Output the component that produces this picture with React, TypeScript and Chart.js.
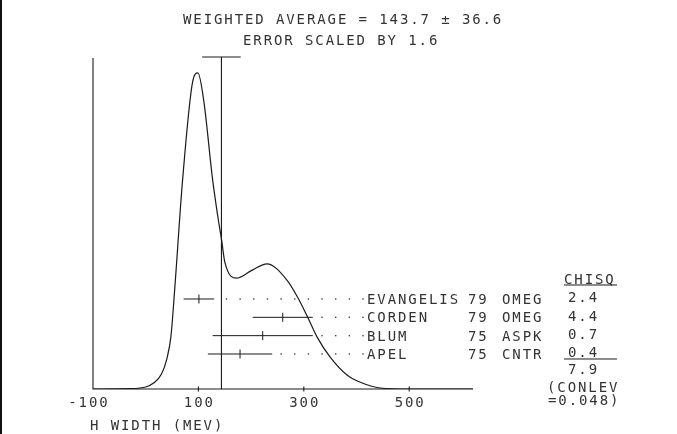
import React, { useEffect, useRef } from 'react';
import { Chart, registerables } from 'chart.js';

Chart.register(...registerables);

// Ideogram curve (MeV, relative height)
const curveMeV = [-100, -30, 0, 15, 30, 40, 48, 55, 70, 89, 99, 110, 127, 137, 144, 150, 173, 202, 230, 268, 289, 308, 325, 350, 382, 406, 445, 500, 621];
const curveHeight = [0, 0.001, 0.006, 0.018, 0.045, 0.09, 0.16, 0.3, 0.63, 0.925, 0.952, 0.87, 0.63, 0.518, 0.449, 0.383, 0.334, 0.358, 0.377, 0.328, 0.274, 0.214, 0.157, 0.096, 0.042, 0.021, 0.003, 0, 0];

// Measurements
const names = ['EVANGELIS', 'CORDEN', 'BLUM', 'APEL'];
const years = ['79', '79', '75', '75'];
const techs = ['OMEG', 'OMEG', 'ASPK', 'CNTR'];
const values = [101, 260, 222, 179];
const errors = [29, 57, 95, 61];
const chisq = ['2.4', '4.4', '0.7', '0.4'];
const chisqTotal = '7.9';
const conlevLines = ['(CONLEV', '=0.048)'];

const avgValue = 143.7;
const avgError = 36.6;

const xTicks = [-100, 100, 300, 500];
const xTickLabels = ['-100', '100', '300', '500'];
const titleLines = ['WEIGHTED AVERAGE = 143.7 \u00B1 36.6', 'ERROR SCALED BY 1.6'];
const xAxisTitle = 'H WIDTH (MEV)';

const FONT = '14px "DejaVu Sans Mono", monospace';
const INK = '#1a1a1a';
const TEXT_INK = '#333';

const ideogramPlugin = {
  id: 'ideogram',
  afterDatasetsDraw(chart: any) {
    const ctx = chart.ctx as CanvasRenderingContext2D;
    const xs = chart.scales.x;
    const ys = chart.scales.y;
    const rs = chart.scales.row;
    const x0 = xs.getPixelForValue(-100);
    const yBase = ys.getPixelForValue(0);
    const yTop = ys.getPixelForValue(1);

    ctx.save();
    ctx.strokeStyle = INK;
    ctx.lineWidth = 1.1;

    // axes
    ctx.beginPath();
    ctx.moveTo(x0, yTop + 1);
    ctx.lineTo(x0, yBase);
    ctx.lineTo(xs.right, yBase);
    ctx.stroke();
    xTicks.forEach((t) => {
      if (t === -100) return;
      const px = xs.getPixelForValue(t);
      ctx.beginPath();
      ctx.moveTo(px, yBase - 2.5);
      ctx.lineTo(px, yBase + 2.5);
      ctx.stroke();
    });

    // weighted average line with error cap
    const ax = xs.getPixelForValue(avgValue);
    ctx.beginPath();
    ctx.moveTo(ax, yBase);
    ctx.lineTo(ax, yTop);
    ctx.moveTo(xs.getPixelForValue(avgValue - avgError), yTop);
    ctx.lineTo(xs.getPixelForValue(avgValue + avgError), yTop);
    ctx.stroke();

    const nameX = 367;
    // error bars + dotted leaders
    values.forEach((v, i) => {
      const py = rs.getPixelForValue(i);
      const lo = xs.getPixelForValue(v - errors[i]);
      const hi = xs.getPixelForValue(v + errors[i]);
      const c = xs.getPixelForValue(v);
      ctx.strokeStyle = INK;
      ctx.lineWidth = 1;
      ctx.beginPath();
      ctx.moveTo(lo, py);
      ctx.lineTo(hi, py);
      ctx.moveTo(c, py - 4.5);
      ctx.lineTo(c, py + 4.5);
      ctx.stroke();
      ctx.fillStyle = '#444';
      for (let k = 0; k < 40; k++) {
        const dx = nameX - 4 - 13.65 * k;
        if (dx < hi + 5) break;
        ctx.fillRect(dx - 0.7, py - 0.7, 1.4, 1.4);
      }
    });

    // text
    ctx.fillStyle = TEXT_INK;
    ctx.font = FONT;
    (ctx as any).letterSpacing = '1.9px';
    ctx.textAlign = 'left';
    ctx.textBaseline = 'alphabetic';
    const put = (s: string, x: number, cy: number) => ctx.fillText(s, x, cy + 5);

    put(titleLines[0], 183, 19);
    put(titleLines[1], 243, 40);

    names.forEach((n, i) => {
      const py = rs.getPixelForValue(i);
      put(n, nameX, py);
      put(years[i], 468, py);
      put(techs[i], 502, py);
      put(chisq[i], 568, py - 1.5);
    });

    const r0 = rs.getPixelForValue(0);
    const r3 = rs.getPixelForValue(3);
    put('CHISQ', 564, r0 - 20);
    ctx.strokeStyle = INK;
    ctx.lineWidth = 1;
    ctx.beginPath();
    ctx.moveTo(564, r0 - 14);
    ctx.lineTo(617, r0 - 14);
    ctx.moveTo(564, r3 + 5);
    ctx.lineTo(617, r3 + 5);
    ctx.stroke();
    put(chisqTotal, 568, r3 + 15);
    put(conlevLines[0], 547, r3 + 33);
    put(conlevLines[1], 548, r3 + 46);

    xTicks.forEach((t, i) => {
      const px = xs.getPixelForValue(t);
      const w = ctx.measureText(xTickLabels[i]).width - 1.9;
      put(xTickLabels[i], px - w / 2 + (t === -100 ? -5 : 0), yBase + 13);
    });
    put(xAxisTitle, 90, yBase + 36);

    // scan edge on the left
    ctx.fillStyle = '#111';
    ctx.fillRect(0, 0, 2, chart.height);
    ctx.restore();
  },
};

export default function App() {
  const canvasRef = useRef<HTMLCanvasElement | null>(null);

  useEffect(() => {
    const canvas = canvasRef.current;
    if (!canvas) return;
    const chart = new Chart(canvas, {
      type: 'line',
      data: {
        datasets: [
          {
            data: curveMeV.map((x, i) => ({ x, y: curveHeight[i] })),
            borderColor: INK,
            borderWidth: 1.2,
            pointRadius: 0,
            cubicInterpolationMode: 'monotone',
            fill: false,
          },
        ],
      },
      options: {
        responsive: false,
        animation: false,
        events: [],
        layout: { padding: { left: 93, right: 204, top: 57, bottom: 45 } },
        plugins: { legend: { display: false }, tooltip: { enabled: false }, title: { display: false } },
        scales: {
          x: { type: 'linear', min: -100, max: 621, display: false },
          y: { type: 'linear', min: 0, max: 1, display: false },
          row: { type: 'linear', min: -13.2, max: 4.91, reverse: true, display: false, position: 'right' },
        },
      },
      plugins: [ideogramPlugin],
    });
    return () => chart.destroy();
  }, []);

  return (
    <div style={{ position: 'fixed', left: 0, top: 0, width: 677, height: 434, background: '#fff' }}>
      <canvas ref={canvasRef} width={677} height={434} style={{ display: 'block' }} />
    </div>
  );
}
